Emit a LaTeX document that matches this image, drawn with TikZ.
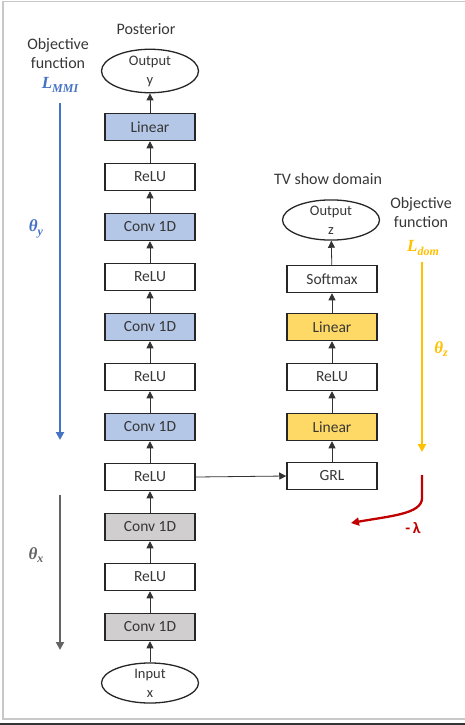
\documentclass[tikz,border=0pt]{standalone}
\usepackage{fontspec}
\setmainfont{Carlito}
\newfontfamily\mfont{Liberation Serif}
\usetikzlibrary{arrows.meta,shapes.geometric}
\definecolor{bluefill}{RGB}{180,199,231}
\definecolor{yelfill}{RGB}{255,217,102}
\definecolor{grayfill}{RGB}{208,206,206}
\definecolor{bluearr}{RGB}{68,114,196}
\definecolor{yelarr}{RGB}{255,192,0}
\definecolor{redarr}{RGB}{192,0,0}
\definecolor{grayarr}{RGB}{100,100,100}
\definecolor{framegray}{RGB}{200,200,200}
\definecolor{txtgray}{RGB}{55,55,55}
\newcommand{\mvar}[2]{{\mfont\bfseries\itshape #1\raisebox{-3.5pt}{\fontsize{12}{12}\selectfont #2}}}
\begin{document}
\begin{tikzpicture}[x=1pt,y=-1pt,
  layer/.style={draw=black!85,line width=1.5pt,minimum width=90pt,minimum height=27pt,inner sep=0pt,font=\fontsize{15.5}{17}\selectfont,text=txtgray},
  blay/.style={layer,fill=bluefill},
  ylay/.style={layer,fill=yelfill},
  glay/.style={layer,fill=grayfill},
  wlay/.style={layer,fill=white},
  io/.style={ellipse,draw=black!85,line width=1.3pt,minimum width=97pt,minimum height=40pt,inner sep=0pt,align=center,font=\fontsize{14.5}{19}\selectfont,text=txtgray},
  conn/.style={-{Triangle[length=7pt,width=7pt]},line width=0.8pt,black!80},
  lbl/.style={font=\fontsize{16}{19}\selectfont,text=txtgray,align=center},
  mlbl/.style={font=\fontsize{17}{19}\selectfont},
  gradarr/.style={-{Triangle[length=8pt,width=8pt]},line width=2.3pt}
]
\useasboundingbox (0,0) rectangle (465,725);
\draw[framegray,line width=1.2pt] (3,1.5) rectangle (466,719);
\fill[black!80] (0,722.5) rectangle (465,725);

% left column
\node[io] (oy) at (150,71) {Output\\y};
\node[blay] (l1) at (150,127) {Linear};
\node[wlay] (r1) at (150,177) {ReLU};
\node[blay] (c1) at (150,227) {Conv 1D};
\node[wlay] (r2) at (150,277) {ReLU};
\node[blay] (c2) at (150,327) {Conv 1D};
\node[wlay] (r3) at (150,377) {ReLU};
\node[blay] (c3) at (150,427) {Conv 1D};
\node[wlay] (r4) at (150,477) {ReLU};
\node[glay] (c4) at (150,527) {Conv 1D};
\node[wlay] (r5) at (150,577) {ReLU};
\node[glay] (c5) at (150,627) {Conv 1D};
\node[io] (ix) at (150,683) {Input\\x};

\foreach \a/\b in {ix/c5,c5/r5,r5/c4,c4/r4,r4/c3,c3/r3,r3/c2,c2/r2,r2/c1,c1/r1,r1/l1,l1/oy}
  \draw[conn] (\a) -- (\b);

% right column
\node[io] (oz) at (331,220) {Output\\z};
\node[wlay] (sm) at (332,279) {Softmax};
\node[ylay] (y1) at (332,327) {Linear};
\node[wlay] (rr) at (332,377) {ReLU};
\node[ylay] (y2) at (332,427) {Linear};
\node[wlay] (grl) at (332,476) {GRL};
\foreach \a/\b in {grl/y2,y2/rr,rr/y1,y1/sm,sm/oz}
  \draw[conn] (\a) -- (\b);
\draw[conn] (r4.east) -- (grl.west);

% labels
\node[lbl] (post) at (146,29) {Posterior};
\node[lbl] (obj1) at (58,54) {Objective\\function};
\node[mlbl,text=bluearr] (lmmi) at (60,85) {\mvar{L}{MMI}};
\node[mlbl,text=bluearr] (ty) at (36,229) {\mvar{θ}{y}};
\node[mlbl,text=grayarr] (tx) at (36,555) {\mvar{θ}{x}};
\node[lbl] (tv) at (328,179) {TV show domain};
\node[lbl] (obj2) at (421,213) {Objective\\function};
\node[mlbl,text=yelarr] (ldom) at (423,248) {\mvar{L}{dom}};
\node[mlbl,text=yelarr] (tz) at (441,349) {\mvar{θ}{z}};
\node[font=\fontsize{16}{17}\selectfont\bfseries,text=redarr] (lam) at (413,528) {-\,λ};

% gradient arrows
\coordinate (bs) at (60,103);
\coordinate (be) at (60,440);
\draw[gradarr,bluearr] (bs) -- (be);
\coordinate (gs) at (60,495);
\coordinate (ge) at (60,650);
\draw[gradarr,grayarr] (gs) -- (ge);
\coordinate (ys) at (422,262);
\coordinate (ye) at (422,452);
\draw[gradarr,yelarr] (ys) -- (ye);
\coordinate (rs) at (422,475);
\coordinate (re) at (351,523);
\draw[gradarr,redarr] (rs) -- (422,498) .. controls (422,514) and (390,516) .. (re);
\end{tikzpicture}
\end{document}
